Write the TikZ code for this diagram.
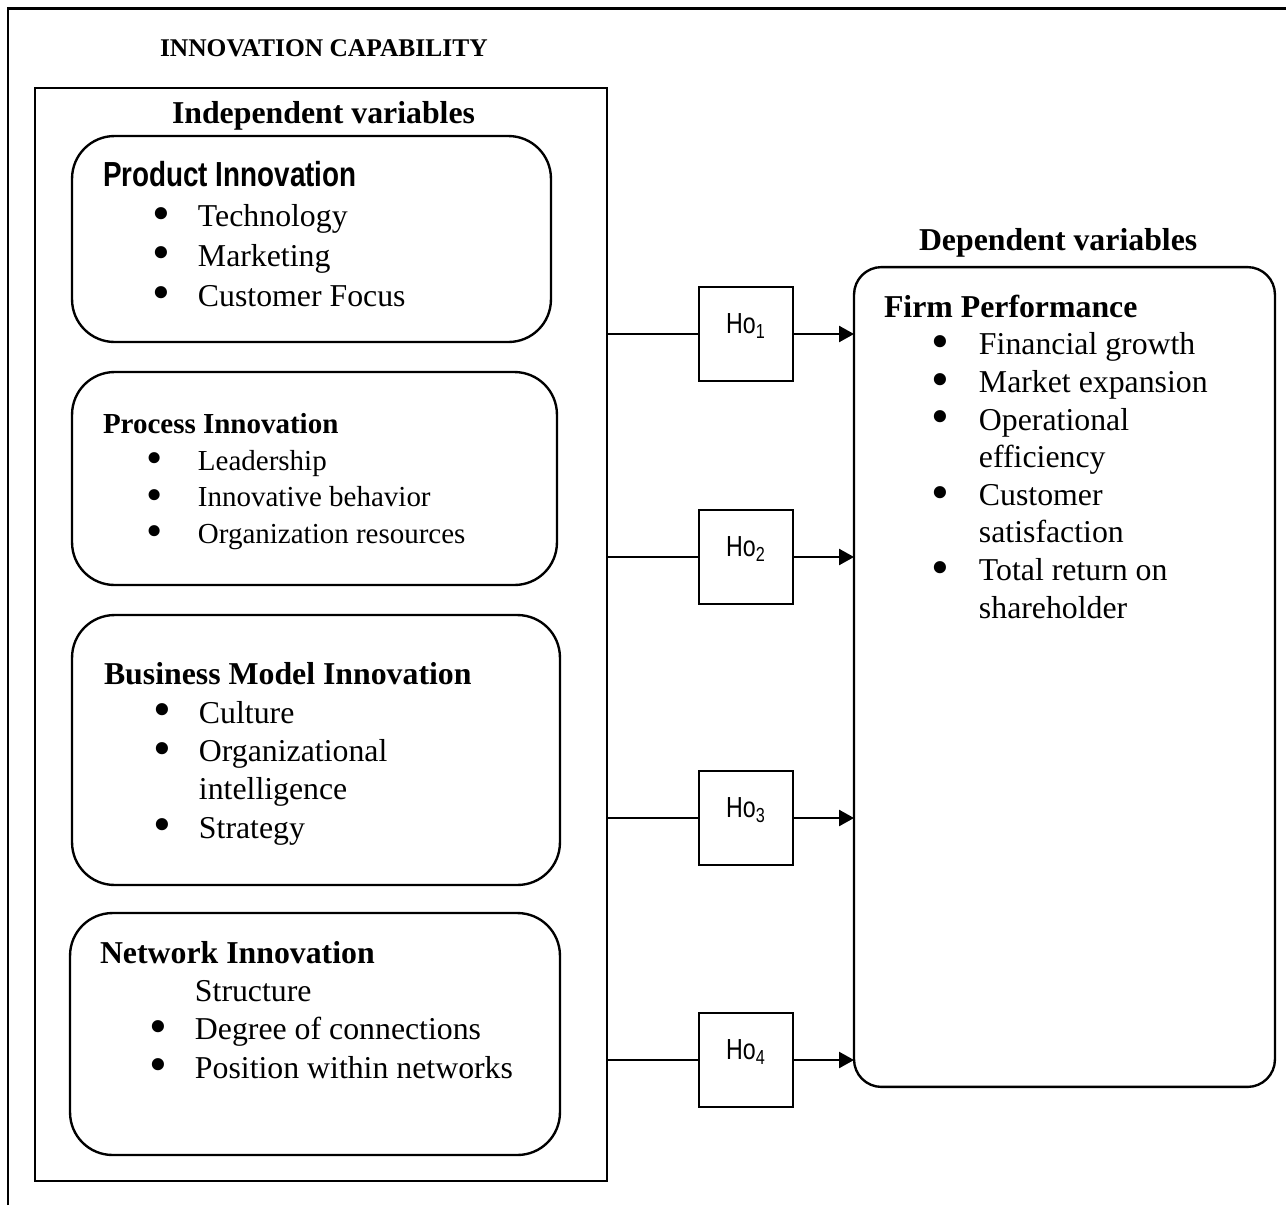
\documentclass[tikz,border=0pt]{standalone}
\usepackage{fontspec}
\setmainfont{Liberation Serif}
\newfontfamily\narrowsf[FakeStretch=0.8]{Liberation Sans}
\usetikzlibrary{arrows.meta}

% bullet line and continuation line inside a variable box
\newcommand{\bigdot}{\raisebox{-0.12em}{\scalebox{1.6}{\textbullet}}}
\newcommand{\itm}[2][0.55cm]{\hspace*{1.9cm}\llap{\bigdot\hspace*{#1}}#2}
\newcommand{\cnt}[1]{\hspace*{1.9cm}#1}

\begin{document}
\begin{tikzpicture}[
        x=0.02cm, y=-0.02cm,
        every node/.style={inner sep=0pt, outer sep=0pt},
        frame/.style={draw, line width=1.3pt},
        varbox/.style={draw, line width=1.35pt, rounded corners=0.85cm},
        hobox/.style={draw, line width=1pt, minimum width=1.88cm, minimum height=1.88cm,
                      text depth=0.4cm, font=\narrowsf\fontsize{16.5}{18}\selectfont},
        txt/.style={anchor=base west, align=left, font=\fontsize{18.1}{22.7}\selectfont},
        head/.style={anchor=base west, font=\bfseries\fontsize{18.1}{22}\selectfont},
        link/.style={line width=1.35pt},
        arrow/.style={link, -{Triangle[length=0.3cm, width=0.32cm]}}
    ]
        \useasboundingbox (0,0) rectangle (1286,1205);
        \draw[line width=1.7pt] (8,1205) -- (8,8) -- (1286,8);

        \node[head, font=\bfseries\fontsize{14.5}{18}\selectfont] (cap) at (160,56) {INNOVATION CAPABILITY};
        \node[frame, minimum width=11.44cm, minimum height=21.86cm] (indep) at (321,634.5) {};
        \node[head] (indeptitle) at (172,123) {Independent variables};
        \node[head] (deptitle) at (919,250) {Dependent variables};

        % independent variables (text nodes sit on the baseline of their last line)
        \node[varbox, minimum width=9.58cm, minimum height=4.12cm] (product) at (311.5,239) {};
        \node[txt] (producttxt) at (103,306)
            {{\narrowsf\bfseries\fontsize{19.8}{22.7}\selectfont Product Innovation}\\
             \itm{Technology}\\ \itm{Marketing}\\ \itm{Customer Focus}};

        \node[varbox, minimum width=9.7cm, minimum height=4.26cm] (process) at (314.5,478.5) {};
        \node[txt, font=\fontsize{16.5}{20.7}\selectfont] (processtxt) at (103,543)
            {\textbf{Process Innovation}\\
             \itm[0.71cm]{Leadership}\\ \itm[0.71cm]{Innovative behavior}\\
             \itm[0.71cm]{Organization resources}};

        \node[varbox, minimum width=9.76cm, minimum height=5.4cm] (business) at (316,750) {};
        \node[txt, font=\fontsize{18.1}{21.8}\selectfont] (businesstxt) at (104,838)
            {\textbf{Business Model Innovation}\\
             \itm{Culture}\\ \itm{Organizational}\\ \cnt{intelligence}\\ \itm{Strategy}};

        \node[varbox, minimum width=9.8cm, minimum height=4.84cm] (network) at (315,1034) {};
        \node[txt, font=\fontsize{18.1}{21.8}\selectfont] (networktxt) at (100,1078)
            {\textbf{Network Innovation}\\
             \cnt{Structure}\\ \itm{Degree of connections}\\ \itm{Position within networks}};

        % dependent variable
        \node[varbox, rounded corners=0.55cm, minimum width=8.42cm, minimum height=16.4cm] (firm) at (1064.5,677) {};
        \node[txt, font=\fontsize{18.1}{21.4}\selectfont] (firmtxt) at (884,618)
            {\textbf{Firm Performance}\\
             \itm[0.6cm]{Financial growth}\\ \itm[0.6cm]{Market expansion}\\
             \itm[0.6cm]{Operational}\\ \cnt{efficiency}\\
             \itm[0.6cm]{Customer}\\ \cnt{satisfaction}\\
             \itm[0.6cm]{Total return on}\\ \cnt{shareholder}};

        % hypotheses
        \node[hobox] (ho1) at (746,334) {Ho\textsubscript{1}};
        \node[hobox] (ho2) at (746,557) {Ho\textsubscript{2}};
        \node[hobox] (ho3) at (746,818) {Ho\textsubscript{3}};
        \node[hobox] (ho4) at (746,1060) {Ho\textsubscript{4}};

        \draw[link] (indep.east |- ho1) -- (ho1);
        \draw[link] (indep.east |- ho2) -- (ho2);
        \draw[link] (indep.east |- ho3) -- (ho3);
        \draw[link] (indep.east |- ho4) -- (ho4);
        \draw[arrow] (ho1) -- (ho1 -| firm.west);
        \draw[arrow] (ho2) -- (ho2 -| firm.west);
        \draw[arrow] (ho3) -- (ho3 -| firm.west);
        \draw[arrow] (ho4) -- (ho4 -| firm.west);
    \end{tikzpicture}
\end{document}
